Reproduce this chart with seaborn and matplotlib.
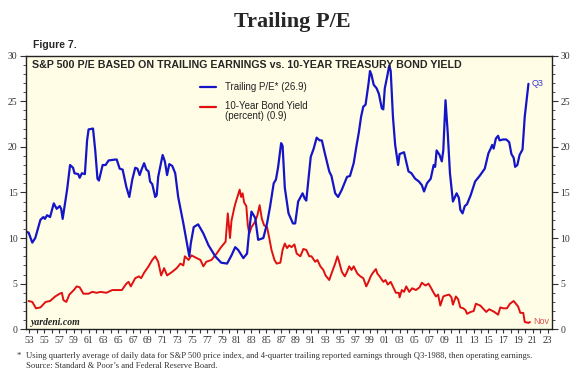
import numpy as np
import pandas as pd
import matplotlib
matplotlib.use("Agg")
import matplotlib.pyplot as plt
import seaborn as sns
from matplotlib.lines import Line2D

# S&P 500 trailing P/E
pe_year = [1952.5, 1952.9, 1953.4, 1953.8, 1954.5, 1954.9, 1955.1, 1955.4, 1955.8, 1956.3,
           1956.7, 1957.1, 1957.3, 1957.5, 1958.1, 1958.5, 1958.9, 1959.1, 1959.6, 1959.8,
           1960.1, 1960.5, 1960.8, 1961.0, 1961.6, 1961.9, 1962.2, 1962.4, 1962.9, 1963.3,
           1963.7, 1964.6, 1964.8, 1965.2, 1965.6, 1966.1, 1966.5, 1966.9, 1967.3, 1967.6,
           1967.9, 1968.2, 1968.5, 1968.8, 1969.1, 1969.3, 1969.6, 1970.0, 1970.2, 1970.4,
           1971.0, 1971.3, 1971.6, 1971.9, 1972.3, 1972.7, 1973.1, 1973.8, 1974.4, 1974.6,
           1974.8, 1975.2, 1975.8, 1976.5, 1977.2, 1978.1, 1978.9, 1979.7, 1980.3, 1980.8,
           1981.2, 1981.9, 1982.4, 1982.7, 1983.0, 1983.5, 1983.9, 1984.6, 1985.1, 1985.5,
           1986.0, 1986.3, 1986.6, 1987.0, 1987.2, 1987.5, 1988.0, 1988.6, 1988.9, 1989.3,
           1989.9, 1990.2, 1990.4, 1991.0, 1991.4, 1991.8, 1992.2, 1992.5, 1992.9, 1993.5,
           1993.8, 1994.3, 1994.7, 1995.2, 1995.9, 1996.3, 1996.8, 1997.2, 1997.5, 1997.8,
           1998.1, 1998.4, 1998.8, 1999.0, 1999.2, 1999.5, 1999.9, 2000.2, 2000.6, 2000.8,
           2001.0, 2001.3, 2001.6, 2001.8, 2002.1, 2002.4, 2002.8, 2003.0, 2003.6, 2004.2,
           2004.6, 2005.1, 2005.6, 2006.0, 2006.3, 2006.7, 2007.2, 2007.6, 2007.8, 2008.0,
           2008.4, 2008.7, 2008.9, 2009.2, 2009.5, 2009.8, 2010.2, 2010.7, 2011.0, 2011.2,
           2011.5, 2011.8, 2012.1, 2012.6, 2013.2, 2013.8, 2014.5, 2015.0, 2015.3, 2015.5,
           2015.7, 2016.0, 2016.3, 2016.5, 2017.0, 2017.4, 2017.8, 2018.1, 2018.4, 2018.6,
           2018.9, 2019.2, 2019.6, 2019.9, 2020.0, 2020.4]
pe_val = [10.7, 10.6, 9.5, 10.0, 12.0, 12.3, 12.1, 12.5, 12.3, 13.8,
          13.2, 13.5, 13.2, 12.1, 15.3, 18.0, 17.7, 17.1, 17.0, 16.6,
          17.1, 17.0, 20.7, 21.9, 22.0, 19.6, 16.5, 16.3, 18.0, 18.0,
          18.5, 18.6, 18.6, 17.6, 17.5, 15.6, 14.5, 16.4, 17.7, 17.6,
          16.9, 17.6, 18.2, 17.5, 17.3, 16.2, 15.9, 14.5, 14.7, 16.7,
          19.1, 18.4, 16.9, 18.1, 17.9, 17.1, 14.5, 11.6, 8.9, 8.0,
          9.4, 11.2, 11.5, 10.5, 9.2, 8.0, 7.3, 7.2, 8.1, 9.0,
          8.7, 7.8, 8.3, 10.9, 12.9, 12.2, 9.8, 10.0, 11.6, 13.4,
          16.0, 16.4, 17.8, 20.4, 20.1, 15.5, 12.7, 11.6, 11.6, 14.0,
          14.9, 14.3, 14.1, 18.9, 19.8, 21.0, 20.7, 20.7, 19.3, 17.3,
          16.8, 14.9, 14.5, 15.3, 16.7, 16.8, 18.2, 20.2, 21.6, 23.3,
          24.4, 24.6, 26.9, 28.3, 27.9, 26.8, 26.4, 25.8, 24.2, 24.1,
          26.4, 27.6, 28.9, 28.3, 23.3, 20.2, 18.0, 19.2, 19.4, 17.3,
          17.1, 16.5, 16.2, 15.8, 15.1, 16.0, 16.5, 18.0, 17.8, 19.6,
          19.1, 18.4, 19.6, 25.1, 21.5, 17.1, 14.0, 14.9, 14.4, 13.1,
          12.7, 13.5, 13.7, 14.7, 16.2, 16.8, 17.6, 19.3, 19.8, 20.2,
          19.8, 20.9, 21.2, 20.7, 20.8, 20.8, 20.5, 19.2, 18.8, 17.8,
          18.0, 19.1, 19.7, 23.3, 24.0, 26.9]

# 10-year Treasury bond yield, percent
yld_year = [1952.9, 1953.4, 1953.9, 1954.5, 1955.2, 1955.8, 1956.5, 1957.1, 1957.4, 1957.6,
            1958.0, 1958.4, 1959.0, 1959.4, 1959.8, 1960.3, 1961.0, 1961.5, 1962.1, 1962.6,
            1963.4, 1964.2, 1965.1, 1965.5, 1966.1, 1966.4, 1966.7, 1967.3, 1967.8, 1968.1,
            1968.5, 1969.1, 1969.6, 1970.0, 1970.4, 1970.8, 1971.2, 1971.6, 1972.3, 1972.9,
            1973.4, 1973.8, 1974.0, 1974.5, 1974.9, 1975.6, 1976.1, 1976.5, 1976.9, 1977.6,
            1978.3, 1978.8, 1979.2, 1979.5, 1979.8, 1980.1, 1980.3, 1980.7, 1980.9, 1981.1,
            1981.4, 1981.6, 1981.8, 1982.0, 1982.3, 1982.5, 1982.7, 1983.0, 1983.5, 1983.8,
            1984.1, 1984.4, 1984.7, 1985.1, 1985.4, 1985.7, 1986.1, 1986.4, 1986.9, 1987.2,
            1987.5, 1987.8, 1988.1, 1988.4, 1988.8, 1989.1, 1989.6, 1990.0, 1990.4, 1990.8,
            1991.1, 1991.6, 1991.9, 1992.3, 1992.7, 1993.0, 1993.5, 1993.8, 1994.3, 1994.6,
            1994.8, 1995.2, 1995.6, 1995.9, 1996.2, 1996.5, 1996.8, 1997.3, 1997.7, 1998.1,
            1998.5, 1998.8, 1999.1, 1999.4, 1999.8, 2000.0, 2000.3, 2000.8, 2001.1, 2001.4,
            2001.8, 2002.2, 2002.5, 2002.9, 2003.0, 2003.3, 2003.6, 2003.9, 2004.3, 2004.7,
            2005.2, 2005.7, 2006.0, 2006.5, 2006.9, 2007.2, 2007.6, 2007.9, 2008.2, 2008.5,
            2008.9, 2009.2, 2009.7, 2010.0, 2010.2, 2010.6, 2010.9, 2011.2, 2011.6, 2011.9,
            2012.1, 2012.6, 2013.0, 2013.3, 2013.9, 2014.7, 2015.1, 2015.8, 2016.3, 2016.6,
            2017.0, 2017.5, 2017.9, 2018.4, 2018.6, 2019.0, 2019.3, 2019.7, 2019.9, 2020.4,
            2020.6]
yld_val = [3.1, 3.0, 2.3, 2.4, 3.0, 3.1, 3.6, 3.9, 4.0, 3.2,
           3.0, 3.8, 4.3, 4.7, 4.6, 3.9, 3.9, 4.1, 4.0, 4.1,
           4.0, 4.3, 4.3, 4.3, 5.0, 5.2, 4.7, 5.6, 5.8, 5.6,
           6.2, 6.9, 7.6, 8.0, 7.4, 5.9, 6.7, 5.9, 6.3, 6.7,
           7.2, 7.0, 8.0, 7.6, 8.1, 7.8, 7.6, 6.9, 7.4, 7.6,
           8.3, 8.9, 9.3, 9.6, 12.7, 10.0, 11.9, 13.4, 14.0, 14.5,
           15.3, 14.5, 14.9, 13.9, 13.5, 11.4, 10.5, 11.2, 11.8, 12.5,
           13.6, 12.1, 11.4, 11.2, 10.0, 8.7, 7.6, 7.2, 7.3, 8.7,
           9.4, 8.9, 9.2, 9.0, 9.3, 8.3, 8.0, 8.8, 8.7, 8.0,
           8.0, 7.4, 7.6, 6.9, 6.5, 5.9, 5.4, 6.1, 7.2, 8.0,
           7.5, 6.3, 5.8, 6.3, 6.9, 6.5, 6.9, 6.1, 5.8, 5.6,
           4.7, 5.2, 5.8, 6.2, 6.6, 6.1, 5.8, 5.2, 5.4, 4.9,
           5.2, 4.5, 4.0, 4.0, 3.5, 4.3, 4.1, 4.7, 4.1, 4.5,
           4.3, 4.6, 5.1, 4.8, 5.0, 4.6, 4.0, 3.6, 3.8, 2.6,
           3.6, 3.7, 3.8, 3.5, 2.7, 3.6, 3.3, 2.4, 2.3, 2.1,
           1.7, 1.9, 2.0, 2.8, 2.6, 1.9, 2.2, 1.9, 1.6, 2.4,
           2.3, 2.3, 2.8, 3.1, 2.9, 2.5, 1.8, 1.8, 0.8, 0.7,
           0.8]

x_tick_years = list(range(1953, 2024, 2))
x_tick_labels = [f"{y % 100:02d}" for y in x_tick_years]
y_ticks = [0, 5, 10, 15, 20, 25, 30]

BLUE = "#1515c8"
RED = "#e01010"

sns.set_style("ticks")
plt.rcParams["font.family"] = ["Liberation Sans", "DejaVu Sans"]

W, H = 585, 389
fig = plt.figure(figsize=(W / 100, H / 100), dpi=100)
fig.patch.set_facecolor("white")


def fx(px):
    return px / W


def fy(py):
    return 1 - py / H


ax = fig.add_axes([fx(26), fy(329.3), fx(552) - fx(26), fy(55.5) - fy(329.3)])
ax.set_facecolor("#fffde6")

pe_df = pd.DataFrame({"year": pe_year, "pe": pe_val})
yld_df = pd.DataFrame({"year": yld_year, "yld": yld_val})
sns.lineplot(data=yld_df, x="year", y="yld", color=RED, lw=1.4, estimator=None, ax=ax)
sns.lineplot(data=pe_df, x="year", y="pe", color=BLUE, lw=1.6, estimator=None, ax=ax)

ax.set_xlim(1952.55, 2023.58)
ax.set_ylim(0, 30)
ax.set_xlabel("")
ax.set_ylabel("")

ax.set_xticks(x_tick_years)
ax.set_xticklabels(x_tick_labels)
ax.set_xticks(range(1953, 2024), minor=True)
ax.set_yticks(y_ticks)
ax.set_yticks(range(0, 31), minor=True)

for side in ["left", "right", "top", "bottom"]:
    ax.spines[side].set_visible(True)
    ax.spines[side].set_color("#222222")
    ax.spines[side].set_linewidth(1.0)

ax.tick_params(axis="y", which="both", direction="out", left=True, right=True,
               labelleft=True, labelright=True, colors="#333333", labelsize=7, pad=2)
ax.tick_params(axis="y", which="major", length=4, width=0.8)
ax.tick_params(axis="y", which="minor", length=2, width=0.6)
ax.tick_params(axis="x", which="both", direction="out", length=3, width=0.8,
               colors="#333333", labelsize=7, pad=1.5)
for lab in ax.get_xticklabels():
    lab.set_family("Liberation Serif")
for t in ax.yaxis.get_major_ticks():
    t.label1.set_family("Liberation Serif")
    t.label2.set_family("Liberation Serif")

# titles
fig.text(0.5, fy(22), "Trailing P/E", ha="center", va="center",
         family="Liberation Serif", weight="bold", fontsize=16)
fig.text(fx(33), fy(45.5), "Figure 7.", ha="left", va="center", weight="bold", fontsize=7.5)
fig.text(fx(32), fy(64.5), "S&P 500 P/E BASED ON TRAILING EARNINGS vs. 10-YEAR TREASURY BOND YIELD",
         ha="left", va="center", weight="bold", fontsize=7.7)

# legend
fig.add_artist(Line2D([fx(200), fx(216)], [fy(87), fy(87)], color=BLUE, lw=1.6))
fig.add_artist(Line2D([fx(200), fx(216)], [fy(106.5), fy(106.5)], color=RED, lw=1.6))
fig.text(fx(225), fy(87), "Trailing P/E* (26.9)", ha="left", va="center", fontsize=7, color="#222222")
fig.text(fx(225), fy(106), "10-Year Bond Yield", ha="left", va="center", fontsize=7, color="#222222")
fig.text(fx(225), fy(116), "(percent) (0.9)", ha="left", va="center", fontsize=7, color="#222222")

# end labels
ax.text(pe_year[-1] + 0.4, pe_val[-1], "Q3", ha="left", va="center", fontsize=6.5, color="#3a3ad0")
ax.text(yld_year[-1] + 0.4, yld_val[-1], "Nov", ha="left", va="center", fontsize=6.5, color="#e05050")

fig.text(fx(31), fy(322.5), "yardeni.com", ha="left", va="center", family="Liberation Serif",
         weight="bold", style="italic", fontsize=7, color="#222222")

# footnote
fig.text(fx(17), fy(356), "*", ha="left", va="center", family="Liberation Serif", fontsize=6.2, color="#333333")
fig.text(fx(26), fy(356),
         "Using quarterly average of daily data for S&P 500 price index, and 4-quarter trailing reported "
         "earnings through Q3-1988, then operating earnings.",
         ha="left", va="center", family="Liberation Serif", fontsize=6.2, color="#333333")
fig.text(fx(26), fy(365.5), "Source: Standard & Poor\u2019s and Federal Reserve Board.",
         ha="left", va="center", family="Liberation Serif", fontsize=6.2, color="#333333")

fig.savefig("out.png", dpi=100)
